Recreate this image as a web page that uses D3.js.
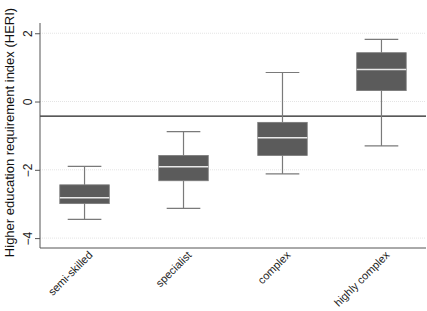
<!DOCTYPE html>
<html lang="en">
<head>
<meta charset="UTF-8">
<script src="https://cdnjs.cloudflare.com/ajax/libs/d3/7.8.5/d3.min.js"></script>
<style>
  body { margin: 0; background: #fff; }
  text { font-family: "Liberation Sans", Arial, sans-serif; }
</style>
</head>
<body>
<script>
// categories and box statistics
var categories = ['semi-skilled', 'specialist', 'complex', 'highly complex'];
var whiskerLow = [-3.45, -3.13, -2.12, -1.30];
var q1 = [-2.99, -2.32, -1.58, 0.32];
var median = [-2.82, -1.91, -1.06, 0.94];
var q3 = [-2.44, -1.58, -0.61, 1.43];
var whiskerHigh = [-1.90, -0.88, 0.85, 1.82];
var yTicks = [-4, -2, 0, 2];
var refLine = -0.43;

var width = 427, height = 311;
var plotL = 40, plotR = 426, plotT = 23, plotB = 248;

var svg = d3.select('body').append('svg')
    .attr('width', width)
    .attr('height', height);

var y = d3.scaleLinear().domain([-4.29, 2.3]).range([plotB, plotT]);
var x = d3.scalePoint().domain(categories).range([plotL, plotR]).padding(0.45);
var step = x.step();

// grid lines
svg.append('g').selectAll('line')
    .data(yTicks)
    .enter().append('line')
    .attr('x1', plotL).attr('x2', plotR)
    .attr('y1', function (d) { return y(d); })
    .attr('y2', function (d) { return y(d); })
    .attr('stroke', '#e4e4e4')
    .attr('stroke-dasharray', '1,1');

// reference line
svg.append('line')
    .attr('x1', plotL).attr('x2', plotR)
    .attr('y1', y(refLine)).attr('y2', y(refLine))
    .attr('stroke', '#222').attr('stroke-width', 1.2);

// boxes
var boxes = svg.append('g').selectAll('g')
    .data(categories)
    .enter().append('g');

var boxW = step * 0.5, capW = step * 0.34;

boxes.append('line')
    .attr('x1', function (d) { return x(d); })
    .attr('x2', function (d) { return x(d); })
    .attr('y1', function (d, i) { return y(whiskerHigh[i]); })
    .attr('y2', function (d, i) { return y(q3[i]); })
    .attr('stroke', '#7a7a7a').attr('stroke-width', 1.2);
boxes.append('line')
    .attr('x1', function (d) { return x(d); })
    .attr('x2', function (d) { return x(d); })
    .attr('y1', function (d, i) { return y(q1[i]); })
    .attr('y2', function (d, i) { return y(whiskerLow[i]); })
    .attr('stroke', '#7a7a7a').attr('stroke-width', 1.2);
boxes.append('line')
    .attr('x1', function (d) { return x(d) - capW / 2; })
    .attr('x2', function (d) { return x(d) + capW / 2; })
    .attr('y1', function (d, i) { return y(whiskerHigh[i]); })
    .attr('y2', function (d, i) { return y(whiskerHigh[i]); })
    .attr('stroke', '#7a7a7a').attr('stroke-width', 1.2);
boxes.append('line')
    .attr('x1', function (d) { return x(d) - capW / 2; })
    .attr('x2', function (d) { return x(d) + capW / 2; })
    .attr('y1', function (d, i) { return y(whiskerLow[i]); })
    .attr('y2', function (d, i) { return y(whiskerLow[i]); })
    .attr('stroke', '#7a7a7a').attr('stroke-width', 1.2);
boxes.append('rect')
    .attr('x', function (d) { return x(d) - boxW / 2; })
    .attr('width', boxW)
    .attr('y', function (d, i) { return y(q3[i]); })
    .attr('height', function (d, i) { return y(q1[i]) - y(q3[i]); })
    .attr('fill', '#5b5b5b')
    .attr('stroke', '#7a7a7a').attr('stroke-width', 0.8);
boxes.append('line')
    .attr('x1', function (d) { return x(d) - boxW / 2; })
    .attr('x2', function (d) { return x(d) + boxW / 2; })
    .attr('y1', function (d, i) { return y(median[i]); })
    .attr('y2', function (d, i) { return y(median[i]); })
    .attr('stroke', '#e8e8e8').attr('stroke-width', 1.6);

// y axis
var yAxis = svg.append('g')
    .attr('transform', 'translate(' + plotL + ',0)')
    .call(d3.axisLeft(y).tickValues(yTicks).tickSize(5).tickFormat(d3.format('d')));
yAxis.select('.domain').attr('d', 'M0,' + plotT + 'V' + plotB).attr('stroke', '#555');
yAxis.selectAll('.tick line').attr('stroke', '#555');
yAxis.selectAll('.tick text')
    .attr('font-size', 12)
    .attr('fill', '#222')
    .attr('x', null).attr('dy', null)
    .attr('text-anchor', 'middle')
    .attr('transform', 'translate(-8,0) rotate(-90)');

// x axis
svg.append('line')
    .attr('x1', plotL).attr('x2', plotR)
    .attr('y1', plotB).attr('y2', plotB)
    .attr('stroke', '#555');

svg.append('g').selectAll('text')
    .data(categories)
    .enter().append('text')
    .attr('transform', function (d) { return 'translate(' + (x(d) + 6) + ',' + (plotB + 5) + ') rotate(-45)'; })
    .attr('text-anchor', 'end')
    .attr('dy', '0.35em')
    .attr('font-size', 11)
    .attr('fill', '#222')
    .text(function (d) { return d; });

// y title
svg.append('text')
    .attr('transform', 'translate(14,' + ((plotT + plotB) / 2 - 3) + ') rotate(-90)')
    .attr('text-anchor', 'middle')
    .attr('font-size', 13)
    .attr('fill', '#111')
    .text('Higher education requirement index (HERI)');
</script>
</body>
</html>
